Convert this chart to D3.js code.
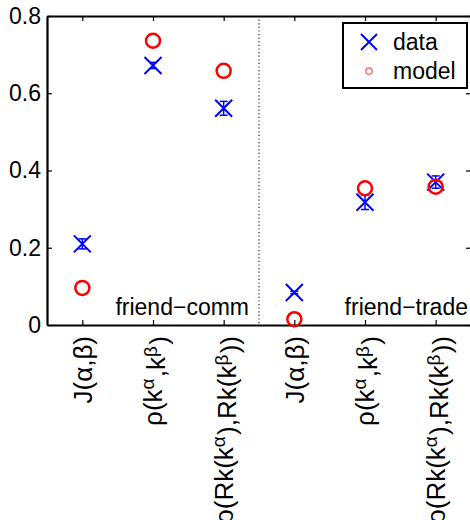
<!DOCTYPE html>
<html>
<head>
<meta charset="utf-8">
<script src="https://cdn.jsdelivr.net/npm/d3@7"></script>
<style>
  body { margin: 0; background: #fff; }
  text { font-family: "Liberation Sans", Arial, sans-serif; }
</style>
</head>
<body>
<svg></svg>
<script>
// categories on the x axis, ^ marks a one-char superscript
var categories = ["J(α,β)", "ρ(k^α,k^β)", "ρ(Rk(k^α),Rk(k^β))",
                  "J(α,β)", "ρ(k^α,k^β)", "ρ(Rk(k^α),Rk(k^β))"];
var groups = ["friend−comm", "friend−trade"];
var dataVals = [0.21, 0.672, 0.561, 0.084, 0.318, 0.37];
var dataErr = [0.013, 0.008, 0.018, 0.003, 0.019, 0.016];
var modelVals = [0.096, 0.736, 0.658, 0.015, 0.354, 0.358];
var yTicks = [0, 0.2, 0.4, 0.6, 0.8];

var svg_width = 470, svg_height = 520;
var svg = d3.select("svg")
            .attr("width", svg_width)
            .attr("height", svg_height);

var x = d3.scaleLinear().domain([0.5, 6.5]).range([47, 471]);
var y = d3.scaleLinear().domain([0, 0.8]).range([325, 16]);
var idx = categories.map(function(d, i){ return i + 1; });

// divider between the two groups
svg.append("line")
   .attr("x1", x(3.5)).attr("x2", x(3.5))
   .attr("y1", y(0.8)).attr("y2", y(0))
   .attr("stroke", "#444").attr("stroke-width", 1.4)
   .attr("stroke-dasharray", "1.2,2.4");

// axes with inward ticks
var fs = "23px";
var yAxis = svg.append("g").attr("transform", "translate(" + x(0.5) + ",0)")
   .call(d3.axisLeft(y).tickValues(yTicks).tickSizeInner(-5).tickSizeOuter(0).tickPadding(6)
         .tickFormat(function(d){ return d === 0 ? "0" : d3.format(".1f")(d); }));
yAxis.selectAll("text").attr("font-size", fs).attr("fill", "#000");
svg.append("g").attr("transform", "translate(" + x(6.5) + ",0)")
   .call(d3.axisRight(y).tickValues(yTicks).tickSizeInner(-5).tickSizeOuter(0).tickFormat(""));
svg.append("g").attr("transform", "translate(0," + y(0) + ")")
   .call(d3.axisBottom(x).tickValues(idx).tickSizeInner(-5).tickSizeOuter(0).tickFormat(""));
svg.append("g").attr("transform", "translate(0," + y(0.8) + ")")
   .call(d3.axisTop(x).tickValues(idx).tickSizeInner(-5).tickSizeOuter(0).tickFormat(""));
svg.selectAll(".domain").attr("stroke", "#000").attr("stroke-width", 2.2);
svg.selectAll(".tick line").attr("stroke", "#000").attr("stroke-width", 1.2);

// rotated category labels
idx.forEach(function(v, i){
  var t = svg.append("text")
     .attr("transform", "translate(" + x(v) + "," + (y(0) + 11) + ") rotate(-90)")
     .attr("text-anchor", "end")
     .attr("dy", "0.36em")
     .attr("font-size", "26px");
  var parts = categories[i].split(/(\^.)/);
  var up = false;
  parts.forEach(function(p){
    if (!p) return;
    if (p[0] === "^") {
      t.append("tspan").attr("dy", "-0.42em").attr("font-size", "19px").text(p[1]);
      up = true;
    } else {
      var s = t.append("tspan").text(p);
      if (up) { s.attr("dy", "0.42em").attr("dx", "0.05em"); up = false; }
    }
  });
});

// group names
svg.selectAll(".grp").data(groups).enter().append("text")
   .attr("x", function(d, i){ return i === 0 ? x(3.5) - 10 : x(6.5) - 3; })
   .attr("y", y(0) - 10)
   .attr("text-anchor", "end")
   .attr("font-size", fs)
   .text(function(d){ return d; });

// error bars for data
var eb = svg.selectAll(".eb").data(dataVals).enter().append("g")
   .attr("stroke", "#0000ff").attr("stroke-width", 1.5);
eb.append("line")
  .attr("x1", function(d, i){ return x(idx[i]); })
  .attr("x2", function(d, i){ return x(idx[i]); })
  .attr("y1", function(d, i){ return y(d - dataErr[i]); })
  .attr("y2", function(d, i){ return y(d + dataErr[i]); });
[-1, 1].forEach(function(s){
  eb.append("line")
    .attr("x1", function(d, i){ return x(idx[i]) - 4; })
    .attr("x2", function(d, i){ return x(idx[i]) + 4; })
    .attr("y1", function(d, i){ return y(d + s * dataErr[i]); })
    .attr("y2", function(d, i){ return y(d + s * dataErr[i]); });
});

// X markers
function cross(g, cx, cy, r) {
  g.append("path")
   .attr("d", "M" + (cx - r) + "," + (cy - r) + "L" + (cx + r) + "," + (cy + r) +
              "M" + (cx - r) + "," + (cy + r) + "L" + (cx + r) + "," + (cy - r))
   .attr("stroke", "#0000ff").attr("stroke-width", 2).attr("fill", "none");
}
dataVals.forEach(function(d, i){ cross(svg, x(idx[i]), y(d), 8.5); });

// model circles
svg.selectAll(".mc").data(modelVals).enter().append("circle")
   .attr("cx", function(d, i){ return x(idx[i]); })
   .attr("cy", function(d){ return y(d); })
   .attr("r", 7)
   .attr("fill", "none").attr("stroke", "#ff0000").attr("stroke-width", 2.5);

// legend
var lg = svg.append("g");
lg.append("rect").attr("x", 343).attr("y", 23).attr("width", 124).attr("height", 65)
  .attr("fill", "#fff").attr("stroke", "#000").attr("stroke-width", 2);
cross(lg, 369, 42, 8);
lg.append("circle").attr("cx", 369).attr("cy", 71).attr("r", 3.2)
  .attr("fill", "none").attr("stroke", "#ff5555").attr("stroke-width", 1.2);
lg.append("text").attr("x", 393).attr("y", 50).attr("font-size", fs).text("data");
lg.append("text").attr("x", 393).attr("y", 79).attr("font-size", fs).text("model");
</script>
</body>
</html>
